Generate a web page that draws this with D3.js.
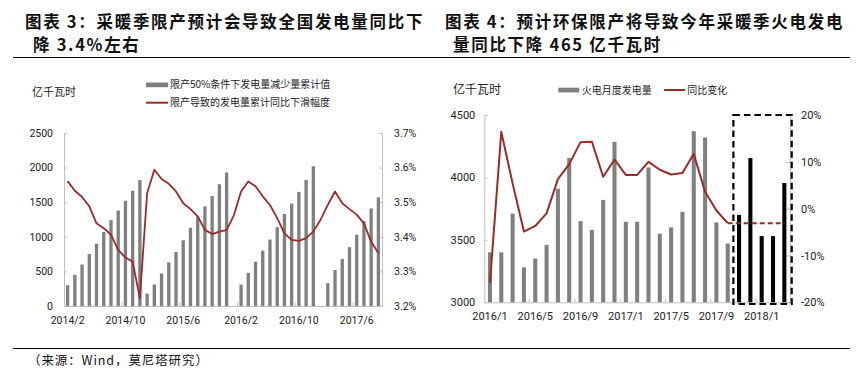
<!DOCTYPE html>
<html>
<head>
<meta charset="utf-8">
<script src="https://cdn.jsdelivr.net/npm/d3@7"></script>
<style>
  body { margin: 0; background: #fff; }
  svg { display: block; }
  .cjk { font-family: "Noto Sans CJK SC", sans-serif; }
  .num { font-family: Roboto, "Noto Sans", sans-serif; fill: #222; }
</style>
</head>
<body>
<svg id="chart" width="864" height="375"></svg>
<script>
// ---- left chart: 2014/2 .. 2017/9
var leftMonths = [
  '2014/2','2014/3','2014/4','2014/5','2014/6','2014/7','2014/8','2014/9','2014/10','2014/11','2014/12',
  '2015/1','2015/2','2015/3','2015/4','2015/5','2015/6','2015/7','2015/8','2015/9','2015/10','2015/11','2015/12',
  '2016/1','2016/2','2016/3','2016/4','2016/5','2016/6','2016/7','2016/8','2016/9','2016/10','2016/11','2016/12',
  '2017/1','2017/2','2017/3','2017/4','2017/5','2017/6','2017/7','2017/8','2017/9'
]
var leftTicks = ['2014/2','2014/10','2015/6','2016/2','2016/10','2017/6']
// 限产50%条件下发电量减少量累计值 (亿千瓦时)
var leftBars = [
  300,450,600,750,900,1070,1240,1380,1520,1665,1820,
  180,310,470,630,780,950,1130,1290,1440,1590,1760,1930,
  null,310,480,640,800,960,1140,1330,1480,1650,1820,2020,
  null,330,520,680,850,1030,1230,1410,1570
]
// 限产导致的发电量累计同比下滑幅度 (%)
var leftLine = [
  3.561,3.533,3.515,3.488,3.439,3.425,3.406,3.362,3.340,3.328,3.222,
  3.526,3.594,3.567,3.553,3.531,3.497,3.480,3.459,3.420,3.408,3.415,3.419,
  3.462,3.531,3.560,3.546,3.517,3.492,3.454,3.410,3.391,3.388,3.396,3.415,
  3.449,3.492,3.531,3.497,3.480,3.464,3.439,3.386,3.353
]
var leftYTicks = [0,500,1000,1500,2000,2500]
var leftRTicks = [3.2,3.3,3.4,3.5,3.6,3.7]

// ---- right chart: 2016/1 .. 2018/3
var rightMonths = [
  '2016/1','2016/2','2016/3','2016/4','2016/5','2016/6','2016/7','2016/8','2016/9','2016/10','2016/11','2016/12',
  '2017/1','2017/2','2017/3','2017/4','2017/5','2017/6','2017/7','2017/8','2017/9','2017/10','2017/11','2017/12',
  '2018/1','2018/2','2018/3'
]
var rightTicks = ['2016/1','2016/5','2016/9','2017/1','2017/5','2017/9','2018/1']
// 火电月度发电量 (actual, 2016/1 .. 2017/10)
var thermal = [3400,3400,3710,3280,3350,3460,3910,4155,3650,3580,3820,4285,
               3645,3645,4080,3550,3600,3725,4370,4320,3640,3470]
// forecast 2017/11 .. 2018/3
var thermalFc = [3700,4155,3530,3530,3955]
// 同比变化 (%)
var yoy = [-15.9,16.4,5.4,-4.9,-3.7,-1.0,6.3,9.5,14.2,14.3,6.8,10.5,
           7.2,7.2,10.0,8.3,7.3,7.6,11.7,3.6,-0.4,-3.1]
var yoyFc = [-3.1,-3.1,-3.1,-3.1,-3.1,-3.1]
var rightYTicks = [3000,3500,4000,4500]
var rightRTicks = [-20,-10,0,10,20]

var RED = '#9b2b2b', GREY = '#808080', AXIS = '#bfbfbf'

var svg = d3.select('#chart')

// titles and rules
function title(x, y, txt) {
  svg.append('text').attr('class', 'cjk')
     .attr('x', x).attr('y', y)
     .attr('font-size', 16.5).attr('font-weight', 700)
     .attr('letter-spacing', 1.7)
     .attr('fill', '#111')
     .text(txt)
}
title(25, 28, '图表 3：采暖季限产预计会导致全国发电量同比下')
title(33, 51, '降 3.4%左右')
title(445, 28, '图表 4：预计环保限产将导致今年采暖季火电发电')
title(453, 51, '量同比下降 465 亿千瓦时')

svg.append('line').attr('x1', 13).attr('x2', 850).attr('y1', 57.5).attr('y2', 57.5)
   .attr('stroke', '#000').attr('stroke-width', 1)
svg.append('line').attr('x1', 13).attr('x2', 850).attr('y1', 348.5).attr('y2', 348.5)
   .attr('stroke', '#000').attr('stroke-width', 1)
svg.append('text').attr('class', 'cjk')
   .attr('x', 28).attr('y', 364.5)
   .attr('font-size', 12.5).attr('fill', '#111')
   .attr('letter-spacing', 0.9)
   .text('（来源：Wind，莫尼塔研究）')

function styleAxis(g) {
  g.select('.domain').attr('stroke', AXIS)
  g.selectAll('.tick line').attr('stroke', AXIS)
  g.selectAll('.tick text').attr('class', 'num').attr('fill', '#222')
}

// ================= left chart
var x = d3.scaleBand().domain(leftMonths).range([64, 382])
var yL = d3.scaleLinear().domain([0, 2500]).range([306, 133])
var yR = d3.scaleLinear().domain([3.2, 3.7]).range([306, 133])
var bwL = x.bandwidth() * 0.46

svg.append('g').attr('transform', 'translate(64,0)')
   .call(d3.axisLeft(yL).tickValues(leftYTicks).tickSize(-3).tickPadding(11).tickSizeOuter(0)
         .tickFormat(d3.format('d')))
   .call(styleAxis)
   .attr('font-size', 10.5)
svg.append('g').attr('transform', 'translate(382,0)')
   .call(d3.axisRight(yR).tickValues(leftRTicks).tickSize(-3).tickPadding(12).tickSizeOuter(0)
         .tickFormat(function(d) { return d.toFixed(1) + '%' }))
   .call(styleAxis)
   .attr('font-size', 10.5)
svg.append('g').attr('transform', 'translate(0,306)')
   .call(d3.axisBottom(x).tickValues(leftTicks).tickSize(0).tickPadding(11))
   .call(styleAxis)
   .attr('font-size', 10.5)

svg.append('g').selectAll('line')
   .data(leftTicks.slice(1))
   .enter().append('line')
   .attr('x1', function(d) { return x(d) }).attr('x2', function(d) { return x(d) })
   .attr('y1', 306).attr('y2', 302.5)
   .attr('stroke', AXIS)

svg.append('g').selectAll('rect')
   .data(leftMonths.map(function(m, i) { return {m: m, v: leftBars[i]} })
                   .filter(function(d) { return d.v != null }))
   .enter().append('rect')
   .attr('x', function(d) { return x(d.m) + (x.bandwidth() - bwL) / 2 })
   .attr('y', function(d) { return yL(d.v) })
   .attr('width', bwL)
   .attr('height', function(d) { return yL(0) - yL(d.v) })
   .attr('fill', GREY)

svg.append('path')
   .datum(leftLine)
   .attr('fill', 'none').attr('stroke', RED).attr('stroke-width', 1.8)
   .attr('stroke-linejoin', 'round')
   .attr('d', d3.line()
     .x(function(d, i) { return x(leftMonths[i]) + x.bandwidth() / 2 })
     .y(function(d) { return yR(d) }))

svg.append('text').attr('class', 'cjk').attr('x', 32).attr('y', 96)
   .attr('font-size', 11).attr('fill', '#222').text('亿千瓦时')
svg.append('rect').attr('x', 146).attr('y', 82.5).attr('width', 22).attr('height', 4.7).attr('fill', GREY)
svg.append('text').attr('class', 'cjk').attr('x', 170).attr('y', 88.3)
   .attr('font-size', 10).attr('fill', '#222').text('限产50%条件下发电量减少量累计值')
svg.append('line').attr('x1', 146).attr('x2', 168).attr('y1', 102.7).attr('y2', 102.7)
   .attr('stroke', RED).attr('stroke-width', 2)
svg.append('text').attr('class', 'cjk').attr('x', 170).attr('y', 106.3)
   .attr('font-size', 10).attr('fill', '#222').text('限产导致的发电量累计同比下滑幅度')

// ================= right chart
var x2 = d3.scaleBand().domain(rightMonths).range([484.3, 790])
var y2L = d3.scaleLinear().domain([3000, 4500]).range([302.3, 115])
var y2R = d3.scaleLinear().domain([-20, 20]).range([302.3, 115])
var bwR = x2.bandwidth() * 0.36

svg.append('g').attr('transform', 'translate(484.3,0)')
   .call(d3.axisLeft(y2L).tickValues(rightYTicks).tickSize(-3).tickPadding(9).tickSizeOuter(0)
         .tickFormat(d3.format('d')))
   .call(styleAxis)
   .attr('font-size', 11)
svg.append('g').attr('transform', 'translate(790,0)')
   .call(d3.axisRight(y2R).tickValues(rightRTicks).tickSize(-4).tickPadding(11).tickSizeOuter(0)
         .tickFormat(function(d) { return d + '%' }))
   .call(styleAxis)
   .attr('font-size', 11)
svg.append('g').attr('transform', 'translate(0,302.3)')
   .call(d3.axisBottom(x2).tickValues(rightTicks).tickSize(0).tickPadding(10))
   .call(styleAxis)
   .attr('font-size', 11)

svg.append('g').selectAll('line')
   .data(rightTicks.slice(1))
   .enter().append('line')
   .attr('x1', function(d) { return x2(d) }).attr('x2', function(d) { return x2(d) })
   .attr('y1', 302.3).attr('y2', 299)
   .attr('stroke', AXIS)

svg.append('g').selectAll('rect')
   .data(thermal)
   .enter().append('rect')
   .attr('x', function(d, i) { return x2(rightMonths[i]) + (x2.bandwidth() - bwR) / 2 })
   .attr('y', function(d) { return y2L(d) })
   .attr('width', bwR)
   .attr('height', function(d) { return y2L(3000) - y2L(d) })
   .attr('fill', GREY)

var fcStart = thermal.length
svg.append('g').selectAll('rect')
   .data(thermalFc)
   .enter().append('rect')
   .attr('x', function(d, i) { return x2(rightMonths[fcStart + i]) + (x2.bandwidth() - bwR) / 2 })
   .attr('y', function(d) { return y2L(d) })
   .attr('width', bwR)
   .attr('height', function(d) { return y2L(3000) - y2L(d) })
   .attr('fill', '#000')

svg.append('path')
   .datum(yoy)
   .attr('fill', 'none').attr('stroke', RED).attr('stroke-width', 2)
   .attr('stroke-linejoin', 'round')
   .attr('d', d3.line()
     .x(function(d, i) { return x2(rightMonths[i]) + x2.bandwidth() / 2 })
     .y(function(d) { return y2R(d) }))

svg.append('path')
   .datum(yoyFc)
   .attr('fill', 'none').attr('stroke', RED).attr('stroke-width', 2)
   .attr('stroke-dasharray', '5,3')
   .attr('d', d3.line()
     .x(function(d, i) { return x2(rightMonths[yoy.length - 1 + i]) + x2.bandwidth() / 2 })
     .y(function(d) { return y2R(d) }))

// dashed forecast box
var bx0 = x2(rightMonths[fcStart]), bx1 = x2.range()[1] + 1.7
svg.append('rect')
   .attr('x', bx0).attr('y', y2L(4500))
   .attr('width', bx1 - bx0).attr('height', y2L(3000) - y2L(4500) + 1.7)
   .attr('fill', 'none').attr('stroke', '#000').attr('stroke-width', 2.2)
   .attr('stroke-dasharray', '6.5,4')

svg.append('text').attr('class', 'cjk').attr('x', 453).attr('y', 94.3)
   .attr('font-size', 12).attr('fill', '#222').text('亿千瓦时')
svg.append('rect').attr('x', 558.3).attr('y', 87.7).attr('width', 21).attr('height', 4.7).attr('fill', GREY)
svg.append('text').attr('class', 'cjk').attr('x', 581.7).attr('y', 93.6)
   .attr('font-size', 10).attr('fill', '#222').text('火电月度发电量')
svg.append('line').attr('x1', 664).attr('x2', 685).attr('y1', 90).attr('y2', 90)
   .attr('stroke', RED).attr('stroke-width', 2)
svg.append('text').attr('class', 'cjk').attr('x', 687.3).attr('y', 93.6)
   .attr('font-size', 10).attr('fill', '#222').text('同比变化')
</script>
</body>
</html>
